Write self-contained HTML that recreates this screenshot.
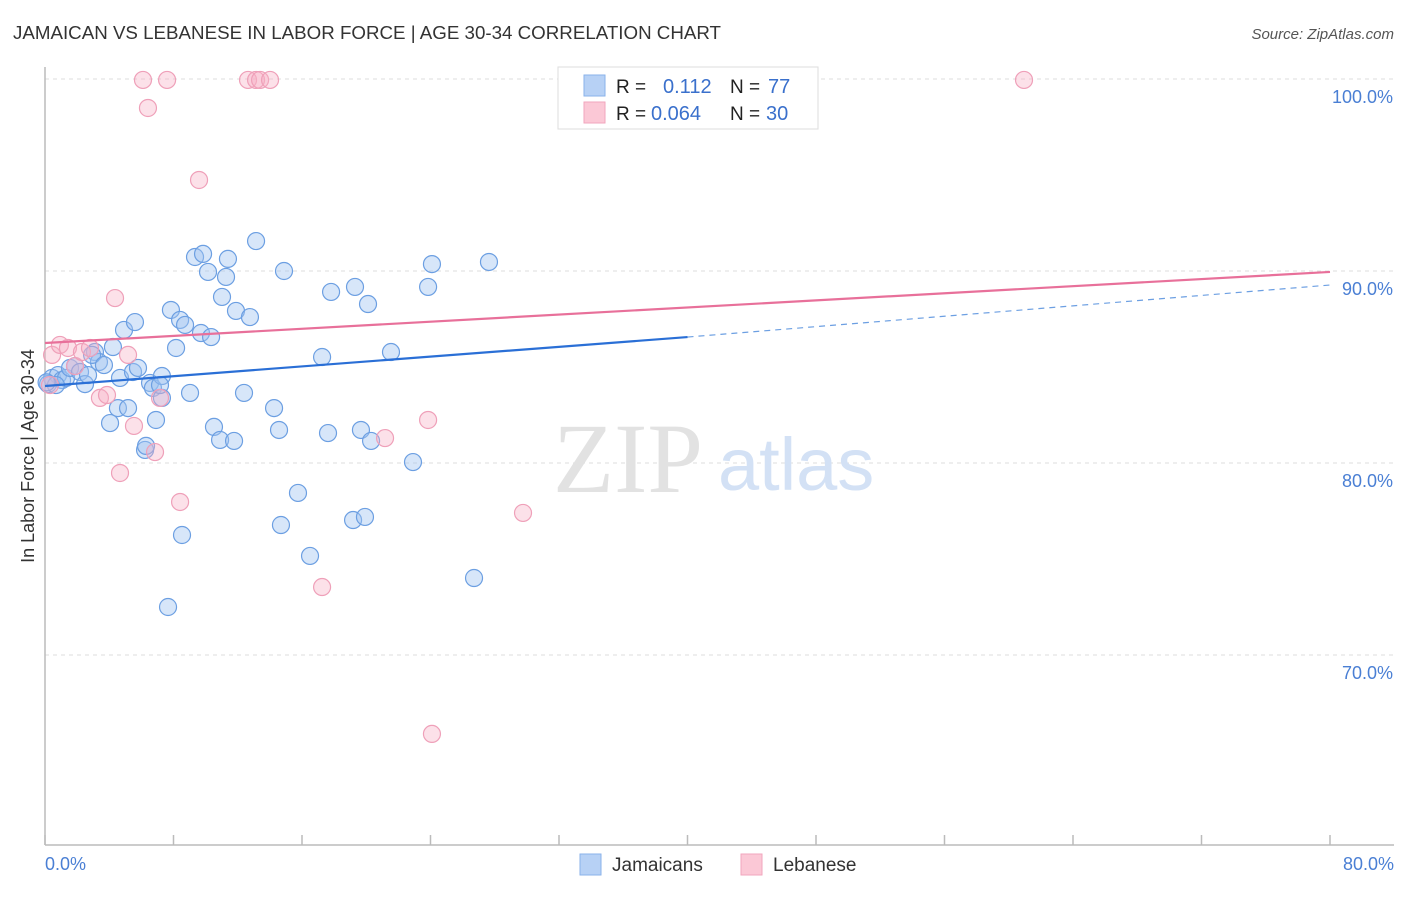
<!DOCTYPE html>
<html><head><meta charset="utf-8"><style>
body{margin:0;background:#fff;font-family:"Liberation Sans",sans-serif;}
svg text{font-family:"Liberation Sans",sans-serif;}
</style></head><body>
<svg id="chart" width="1406" height="892" viewBox="0 0 1406 892" xmlns="http://www.w3.org/2000/svg">
<text x="13" y="39" font-size="18" fill="#333" textLength="708" lengthAdjust="spacingAndGlyphs">JAMAICAN VS LEBANESE IN LABOR FORCE | AGE 30-34 CORRELATION CHART</text>
<text x="1394" y="39" font-size="15" fill="#555" text-anchor="end" font-style="italic">Source: ZipAtlas.com</text>
<g id="grid"></g>
<text x="553" y="492" font-size="100" fill="#e2e2e2" style="font-family:'Liberation Serif',serif">ZIP</text>
<text x="718" y="490" font-size="74" fill="#d3e1f5">atlas</text>
<line x1="45" y1="67" x2="45" y2="845" stroke="#bbb" stroke-width="1.5"/>
<line x1="45" y1="845" x2="1394" y2="845" stroke="#bbb" stroke-width="1.5"/>
<g id="ticks"></g>
<text transform="translate(34,456) rotate(-90)" font-size="18" fill="#333" text-anchor="middle">In Labor Force | Age 30-34</text>
<text x="45" y="870" font-size="18" fill="#4a7fd4">0.0%</text>
<text x="1394" y="870" font-size="18" fill="#4a7fd4" text-anchor="end">80.0%</text>
<g id="pts"></g>
<g id="lines"></g>
<g>
<rect x="558" y="67" width="260" height="62" fill="#fff" stroke="#ddd"/>
<rect x="584" y="75" width="21" height="21" fill="#b7d1f5" stroke="#8ab2ea"/>
<rect x="584" y="102" width="21" height="21" fill="#fbc8d6" stroke="#f2a6bd"/>
<text x="616" y="93" font-size="19" fill="#222">R =</text>
<text x="663" y="93" font-size="20" fill="#3a70cc">0.112</text>
<text x="730" y="93" font-size="19" fill="#222">N =</text>
<text x="768" y="93" font-size="20" fill="#3a70cc">77</text>
<text x="616" y="120" font-size="19" fill="#222">R =</text>
<text x="651" y="120" font-size="20" fill="#3a70cc">0.064</text>
<text x="730" y="120" font-size="19" fill="#222">N =</text>
<text x="766" y="120" font-size="20" fill="#3a70cc">30</text>
</g>
<g>
<rect x="580" y="854" width="21" height="21" fill="#b7d1f5" stroke="#8ab2ea"/>
<text x="612" y="871" font-size="19" fill="#333">Jamaicans</text>
<rect x="741" y="854" width="21" height="21" fill="#fbc8d6" stroke="#f2a6bd"/>
<text x="773" y="871" font-size="19" fill="#333">Lebanese</text>
</g>
</svg>
<script>
const blueX=[0.44,0.81,1.06,1.31,1.56,1.87,2.18,2.49,2.68,3.11,3.36,4.05,4.23,4.54,4.67,4.92,5.17,5.48,5.60,5.79,6.23,6.29,6.54,6.72,6.91,7.28,7.28,7.66,7.84,8.16,8.41,8.53,8.72,9.03,9.34,9.71,9.84,10.15,10.34,10.52,10.90,11.02,11.27,11.39,11.77,11.89,12.39,12.76,13.14,14.26,14.57,14.69,14.88,15.75,16.50,17.25,17.62,17.81,19.18,19.30,19.67,19.92,20.11,20.30,21.54,22.91,23.85,24.09,26.71,27.64,35.55,0.19,0.68,2.93,3.67,7.16,0.1];
const blueY=[84.43,84.58,84.32,84.43,84.95,85.05,84.74,84.11,84.58,85.78,85.26,82.08,86.04,82.86,84.43,86.93,82.86,84.74,87.34,84.95,80.68,80.89,84.17,83.91,82.24,83.39,84.53,72.50,87.97,85.99,87.45,76.25,87.19,83.65,90.73,86.77,90.89,89.95,86.56,81.88,81.20,88.65,89.69,90.63,81.15,87.92,83.65,87.60,91.56,82.86,81.72,76.77,90.00,78.44,75.16,85.52,81.56,88.91,77.03,89.17,81.72,77.19,88.28,81.15,85.78,80.05,89.17,90.36,74.01,90.47,99.95,84.11,84.06,85.63,85.10,84.06,84.2];
const pinkX=[6.10,7.60,6.41,12.64,13.14,13.39,14.01,9.59,4.36,60.95,0.44,0.93,1.43,1.87,2.30,2.80,3.42,3.86,4.67,5.17,5.54,6.85,7.16,8.41,17.25,21.17,23.85,24.09,29.76,0.31];
const pinkY=[99.95,99.95,98.49,99.95,99.95,99.95,99.95,94.74,88.59,99.95,85.63,86.15,85.99,85.05,85.78,85.99,83.39,83.54,79.48,85.63,81.93,80.57,83.39,77.97,73.54,81.30,82.24,65.89,77.40,84.06];
const yTicks=[100,90,80,70];
const yTickLabels=["100.0%","90.0%","80.0%","70.0%"];
const xTicks=[0,8,16,24,32,40,48,56,64,72,80];
const blueTrend=[84.01,86.56,89.27];
const pinkTrend=[86.25,89.95];
const NS="http://www.w3.org/2000/svg";
const sx=v=>45+v*(1285/80);
const sy=v=>79+(100-v)*19.2;
function mk(tag,attrs,parent){const e=document.createElementNS(NS,tag);for(const k in attrs)e.setAttribute(k,attrs[k]);document.getElementById(parent).appendChild(e);return e;}
yTicks.forEach((t,i)=>{
  const l=mk('line',{x1:45,x2:1394,y1:sy(t),y2:sy(t),stroke:'#ddd','stroke-dasharray':'4,4'},'grid');
  
  
  const tx=mk('text',{x:1393,y:sy(t)+24,'font-size':18,fill:'#4a7fd4','text-anchor':'end'},'grid');
  tx.textContent=yTickLabels[i];
  
  
});
xTicks.forEach(t=>{
  const l=mk('line',{x1:sx(t),x2:sx(t),y1:835,y2:845,stroke:'#bbb','stroke-width':1.5},'ticks');
  
  
});
blueX.forEach((x,i)=>{
  const c=mk('circle',{cx:sx(x),cy:sy(blueY[i]),r:8.5,fill:'rgba(160,196,240,0.42)',stroke:'#6c9fe2','stroke-width':1.2},'pts');
  
  
});
pinkX.forEach((x,i)=>{
  const c=mk('circle',{cx:sx(x),cy:sy(pinkY[i]),r:8.5,fill:'rgba(246,176,198,0.38)',stroke:'#efa0b9','stroke-width':1.2},'pts');
  
  
});
let l1=mk('line',{x1:sx(0),y1:sy(blueTrend[0]),x2:sx(40),y2:sy(blueTrend[1]),stroke:'#2a6fd6','stroke-width':2.2},'lines');


let l2=mk('line',{x1:sx(40),y1:sy(blueTrend[1]),x2:sx(80),y2:sy(blueTrend[2]),stroke:'#6c9fe2','stroke-width':1.2,'stroke-dasharray':'6,5'},'lines');


let l3=mk('line',{x1:sx(0),y1:sy(pinkTrend[0]),x2:sx(80),y2:sy(pinkTrend[1]),stroke:'#e8709a','stroke-width':2.2},'lines');


</script>
</body></html>
